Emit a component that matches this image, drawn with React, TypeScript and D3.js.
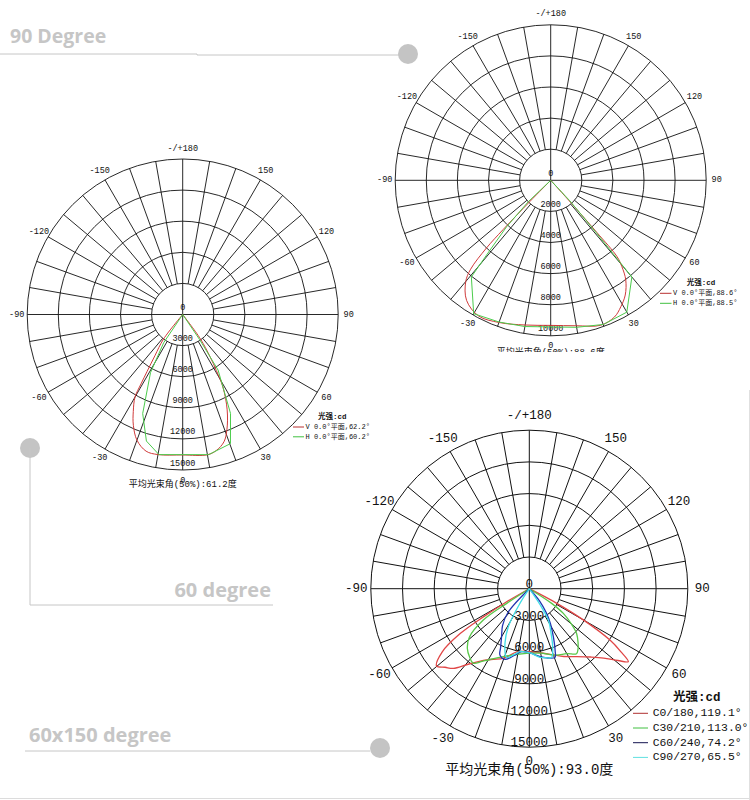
import React from "react";
import * as d3 from "d3";

// ---------- shared tick data ----------
const angleTicks = [0, 30, 60, 90, 120, 150, 180, -150, -120, -90, -60, -30];
const angleTickLabels = ["0", "30", "60", "90", "120", "150", "-/+180", "-150", "-120", "-90", "-60", "-30"];
const ringLabels15000 = ["0", "3000", "6000", "9000", "12000", "15000"];
const ringLabels10000 = ["0", "2000", "4000", "6000", "8000", "10000"];

// ---------- chart A: 60 degree ----------
const aVAngles = [-42, -38, -34, -32, -31, -30, -27, -24, -20, -15, -10, 0, 10, 14, 18, 21, 25, 29, 31, 33, 36, 40];
const aVValues = [0, 3000, 4800, 6500, 7800, 9200, 10500, 11700, 12900, 13650, 13720, 13550, 13740, 13500, 12900, 11900, 10150, 8000, 6300, 4800, 2900, 0];
const aHAngles = [-40, -34, -29, -22, -16, -9.6, 10.5, 20.3, 25.8, 32.5, 34, 38];
const aHValues = [0, 3280, 6400, 10300, 12700, 13710, 13750, 13280, 10600, 6350, 2950, 0];
const aLegend = ["V 0.0°平面,62.2°", "H 0.0°平面,60.2°"];
const aTitle = "平均光束角(50%):61.2度";

// ---------- chart B: 90 degree ----------
const bVAngles = [-47, -44.5, -44, -43.5, -42, -40, -35, -28, -20, -10, 0, 10, 19, 25, 29, 33, 37, 39.5, 41, 41.5, 42, 44];
const bVValues = [0, 1900, 4400, 6000, 7700, 8500, 9430, 9880, 9730, 9450, 9330, 9500, 9860, 9700, 9300, 8800, 8020, 7200, 6500, 4500, 2000, 0];
const bHAngles = [-48, -46.3, -43.5, -41, -39.4, -30, -20, -10, 10, 20.1, 30, 40, 41, 43, 46];
const bHValues = [0, 1990, 4120, 5960, 8040, 9905, 9700, 9550, 9600, 9870, 9790, 8120, 4500, 1800, 0];
const bLegend = ["V 0.0°平面,88.6°", "H 0.0°平面,88.5°"];
const bTitle = "平均光束角(50%):88.6度";

// ---------- chart C: 60x150 degree ----------
const cC0Angles = [-63, -60, -58.5, -57, -54, -50.2, -47, -43.6, -39, -31, -27, -20.5, -11, 0, 11, 20, 27, 35, 42, 47, 51, 53.6, 55.5, 57.5, 60, 62, 64];
const cC0Values = [0, 2600, 5100, 7800, 10200, 11420, 10900, 10420, 9200, 7870, 7500, 7040, 6100, 5960, 6200, 6670, 7200, 7840, 8700, 9620, 10800, 11640, 10500, 9050, 5900, 2900, 0];
const cC30Angles = [-60, -57, -55.7, -51, -46, -41, -37, -33, -29, -21, -10, 0, 10, 22, 30, 36, 38.5, 42, 46.6, 50, 54, 56.7, 59];
const cC30Values = [0, 2500, 5270, 7300, 8150, 8600, 8830, 8200, 7660, 6890, 6300, 6100, 6200, 6790, 7100, 7600, 7390, 6900, 6160, 5200, 3980, 2530, 0];
const cC60Angles = [-48, -42, -36, -30, -26, -23.9, -19, -12, -7, 0, 9, 14, 20.5, 22.5, 26.6, 31, 35, 40, 44];
const cC60Values = [0, 3000, 4300, 5250, 6200, 6860, 7070, 6400, 6000, 6060, 6500, 6750, 6940, 6400, 5080, 3900, 2850, 1500, 0];
const cC90Angles = [-36, -32.5, -28.9, -24, -18.3, -12, -8.4, 0, 8.9, 13, 18, 21.9, 26, 31.3, 34, 37];
const cC90Values = [0, 1650, 4110, 5660, 6850, 6300, 6030, 6060, 6580, 6700, 6840, 5920, 4700, 3470, 1800, 0];
const cLegend = ["C0/180,119.1°", "C30/210,113.0°", "C60/240,74.2°", "C90/270,65.5°"];
const cTitle = "平均光束角(50%):93.0度";

const legendTitle = "光强:cd";
const MONO = "'Liberation Mono', 'Noto Sans CJK SC', monospace";
const DECO = "'Open Sans', sans-serif";
const DECO_COLOR = "#c6c6c6";

type Series = { angles: number[]; values: number[]; color: string; smooth: boolean };
type LegendItem = { label: string; color: string };

interface PolarProps {
  cx: number; cy: number; R: number; max: number;
  ringLabels: string[]; fs: number; labelR: number; ringLabelOffset: number;
  series: Series[];
  legend: LegendItem[]; legendLineX: [number, number]; legendTextX: number;
  legendTitleX: number; legendTitleY: number; legendY0: number; legendDy: number;
  legendFs: number; legendTitleFs: number;
  title: string; titleY: number; titleFs: number;
  gridW: number; curveW: number;
  clipId?: string; clipMaxY?: number;
}

function PolarChart(p: PolarProps) {
  const r = d3.scaleLinear().domain([0, p.max]).range([0, p.R]);
  const step = p.max / 5;
  const rings = d3.range(1, 6).map((i) => r(i * step));
  const rad = (deg: number) => (deg * Math.PI) / 180;
  const spokes = d3.range(0, 360, 10).filter((a) => a % 90 !== 0);
  const r1 = rings[0];
  const line = (s: Series) =>
    d3
      .lineRadial<number>()
      .angle((i) => Math.PI - rad(s.angles[i]))
      .radius((i) => r(s.values[i]))
      .curve(s.smooth ? d3.curveCatmullRom.alpha(0.5) : d3.curveLinear)(d3.range(s.angles.length)) || "";

  const content = (
    <g>
      <g stroke="#111" strokeWidth={p.gridW} fill="none">
        {rings.map((rr, i) => (
          <circle key={"r" + i} cx={p.cx} cy={p.cy} r={rr} />
        ))}
        {spokes.map((a) => (
          <line
            key={"s" + a}
            x1={p.cx + r1 * Math.sin(rad(a))}
            y1={p.cy + r1 * Math.cos(rad(a))}
            x2={p.cx + p.R * Math.sin(rad(a))}
            y2={p.cy + p.R * Math.cos(rad(a))}
          />
        ))}
        <line x1={p.cx - p.R} y1={p.cy} x2={p.cx + p.R} y2={p.cy} />
        <line x1={p.cx} y1={p.cy - p.R} x2={p.cx} y2={p.cy + p.R} />
      </g>
      <g fontFamily={MONO} fontSize={p.fs} fill="#111" textAnchor="middle">
        {angleTicks.map((a, i) => (
          <text
            key={"a" + a}
            x={p.cx + p.labelR * Math.sin(rad(a))}
            y={p.cy + p.labelR * Math.cos(rad(a))}
            dominantBaseline="central"
          >
            {angleTickLabels[i]}
          </text>
        ))}
        {p.ringLabels.map((lab, i) => (
          <text key={"l" + i} x={p.cx} y={p.cy + r(i * step) - p.ringLabelOffset}>
            {lab}
          </text>
        ))}
      </g>
      <g transform={`translate(${p.cx},${p.cy})`} fill="none">
        {p.series.map((s, i) => (
          <path key={"p" + i} d={line(s)} stroke={s.color} strokeWidth={p.curveW} strokeLinejoin="round" />
        ))}
      </g>
      <g fontFamily={MONO} fill="#111">
        <text x={p.legendTitleX} y={p.legendTitleY} fontSize={p.legendTitleFs} fontWeight="bold" dominantBaseline="central">
          {legendTitle}
        </text>
        {p.legend.map((it, i) => (
          <g key={"lg" + i}>
            <line
              x1={p.legendLineX[0]}
              x2={p.legendLineX[1]}
              y1={p.legendY0 + i * p.legendDy}
              y2={p.legendY0 + i * p.legendDy}
              stroke={it.color}
              strokeWidth={1}
            />
            <text x={p.legendTextX} y={p.legendY0 + i * p.legendDy} fontSize={p.legendFs} dominantBaseline="central">
              {it.label}
            </text>
          </g>
        ))}
        <text x={p.cx} y={p.titleY} fontSize={p.titleFs} textAnchor="middle">
          {p.title}
        </text>
      </g>
    </g>
  );

  if (p.clipId) {
    return (
      <g>
        <defs>
          <clipPath id={p.clipId}>
            <rect x={0} y={0} width={750} height={p.clipMaxY} />
          </clipPath>
        </defs>
        <g clipPath={`url(#${p.clipId})`}>{content}</g>
      </g>
    );
  }
  return content;
}

export default function App() {
  const seriesA: Series[] = [
    { angles: aVAngles, values: aVValues, color: "#d03a3a", smooth: true },
    { angles: aHAngles, values: aHValues, color: "#4ccc4c", smooth: false },
  ];
  const seriesB: Series[] = [
    { angles: bVAngles, values: bVValues, color: "#d03a3a", smooth: true },
    { angles: bHAngles, values: bHValues, color: "#4ccc4c", smooth: false },
  ];
  const seriesC: Series[] = [
    { angles: cC0Angles, values: cC0Values, color: "#e04646", smooth: true },
    { angles: cC30Angles, values: cC30Values, color: "#58c848", smooth: true },
    { angles: cC60Angles, values: cC60Values, color: "#2233b0", smooth: true },
    { angles: cC90Angles, values: cC90Values, color: "#3fdde6", smooth: true },
  ];
  const legA: LegendItem[] = [
    { label: aLegend[0], color: "#b83030" },
    { label: aLegend[1], color: "#40c040" },
  ];
  const legB: LegendItem[] = [
    { label: bLegend[0], color: "#b83030" },
    { label: bLegend[1], color: "#40c040" },
  ];
  const legC: LegendItem[] = [
    { label: cLegend[0], color: "#b03030" },
    { label: cLegend[1], color: "#40c040" },
    { label: cLegend[2], color: "#141450" },
    { label: cLegend[3], color: "#60e0e0" },
  ];

  return (
    <div style={{ position: "absolute", left: 0, top: 0, width: 750, height: 800, background: "#fff" }}>
      <svg width={750} height={800} viewBox="0 0 750 800">
        <rect x={0} y={0} width={750} height={800} fill="#fff" />
        {/* decorations */}
        <g>
          <text x={10} y={43} fontFamily={DECO} fontWeight={700} fontSize={19.5} fill={DECO_COLOR}>
            90 Degree
          </text>
          <polyline points="0,54 197,54 197,55 400,55" fill="none" stroke={DECO_COLOR} strokeWidth={1} />
          <circle cx={408} cy={54} r={10} fill="#c4c4c4" />

          <circle cx={30} cy={448} r={10} fill="#c4c4c4" />
          <polyline points="30,448 30,605 273,605" fill="none" stroke={DECO_COLOR} strokeWidth={1} />
          <text x={271} y={597} textAnchor="end" fontFamily={DECO} fontWeight={700} fontSize={20} fill={DECO_COLOR}>
            60 degree
          </text>

          <text x={29} y={742} fontFamily={DECO} fontWeight={700} fontSize={20} fill={DECO_COLOR}>
            60x150 degree
          </text>
          <line x1={25} y1={751} x2={370} y2={751} stroke={DECO_COLOR} strokeWidth={1} />
          <circle cx={380} cy={748} r={10} fill="#c4c4c4" />

          <line x1={0} y1={798.5} x2={750} y2={798.5} stroke="#dcdcdc" strokeWidth={1} />
          <line x1={749.5} y1={390} x2={749.5} y2={800} stroke="#e0e0e0" strokeWidth={1} />
        </g>

        <PolarChart
          cx={182.7} cy={314.5} R={155.5} max={15000}
          ringLabels={ringLabels15000} fs={8.5} labelR={166} ringLabelOffset={4.5}
          series={seriesA}
          legendLineX={[293, 304]} legend={legA} legendTextX={305.5}
          legendTitleX={318} legendTitleY={417} legendY0={427} legendDy={9.8}
          legendFs={7} legendTitleFs={7.5}
          title={aTitle} titleY={486.5} titleFs={9}
          gridW={0.9} curveW={1}
        />
        <PolarChart
          cx={550.7} cy={180.3} R={155.5} max={10000}
          ringLabels={ringLabels10000} fs={8.5} labelR={166} ringLabelOffset={4.5}
          series={seriesB}
          legendLineX={[660, 671.5]} legend={legB} legendTextX={673}
          legendTitleX={686.7} legendTitleY={282.7} legendY0={293.3} legendDy={10}
          legendFs={7} legendTitleFs={7.5}
          title={bTitle} titleY={355} titleFs={9}
          gridW={0.9} curveW={1}
          clipId="clipB" clipMaxY={352}
        />
        <PolarChart
          cx={529.3} cy={588.7} R={158.5} max={15000}
          ringLabels={ringLabels15000} fs={12.5} labelR={173} ringLabelOffset={0.8}
          series={seriesC}
          legendLineX={[633, 648]} legend={legC} legendTextX={652.7}
          legendTitleX={673} legendTitleY={698.3} legendY0={713.3} legendDy={14.7}
          legendFs={11.4} legendTitleFs={12.5}
          title={cTitle} titleY={774} titleFs={14}
          gridW={1} curveW={1.3}
        />
      </svg>
    </div>
  );
}
